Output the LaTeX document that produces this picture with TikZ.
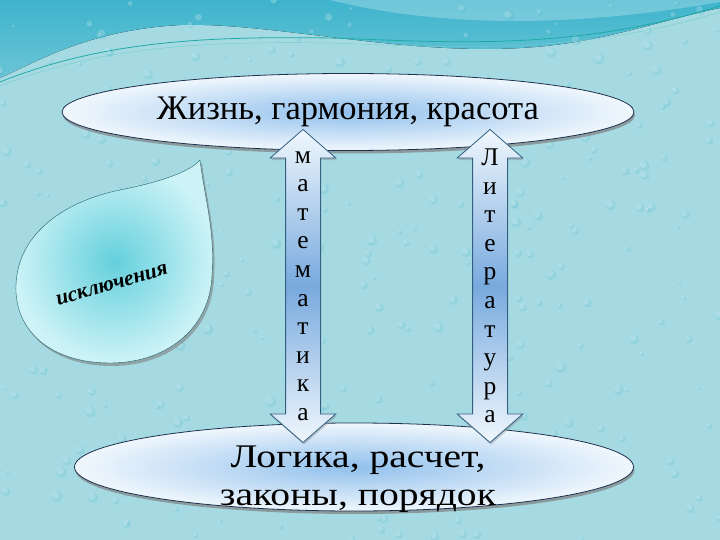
\documentclass[tikz,border=0pt]{standalone}
\usepackage{fontspec}
\setmainfont{Liberation Serif}
\newfontfamily\wideserif[FakeStretch=1.2]{Liberation Serif}
\usetikzlibrary{shapes.geometric,shapes.arrows,shadows,positioning}
\definecolor{sea}{RGB}{165,218,227}
\definecolor{seadark}{RGB}{62,180,204}
\definecolor{ovalmid}{RGB}{145,192,236}
\definecolor{ovaledge}{RGB}{240,247,253}
\definecolor{ovalline}{RGB}{30,50,80}
\definecolor{arrowline}{RGB}{50,95,130}
\definecolor{arrowmid}{RGB}{120,170,222}
\definecolor{dropmid}{RGB}{100,208,220}
\definecolor{dropedge}{RGB}{205,243,247}
\definecolor{dropline}{RGB}{30,100,105}
\definecolor{wave}{RGB}{30,170,165}
\tikzset{oval/.style={ellipse,draw=ovalline,thick,inner sep=0pt,inner color=ovalmid,outer color=ovaledge,
            drop shadow={shadow xshift=1pt,shadow yshift=-3pt,opacity=.7},font=\fontsize{34.5}{35}\selectfont,align=center},
         oval text/.style={align=center,inner sep=0pt,font=\wideserif\fontsize{33}{38}\selectfont},
         twoway/.style={double arrow,draw=arrowline,thick,rotate=90,minimum height=313pt,
            inner xsep=0pt,inner ysep=17pt,double arrow head extend=15.5pt,double arrow tip angle=98,
            top color=ovaledge,bottom color=ovaledge,middle color=arrowmid,
            drop shadow={shadow xshift=1pt,shadow yshift=-2pt,opacity=.4}},
         letters/.style={align=center,inner sep=0pt,font=\fontsize{25.5}{28.6}\selectfont},
         drop label/.style={font=\fontsize{21.5}{24}\selectfont\bfseries\itshape,rotate=16,inner sep=0pt},
}
\begin{document}
\begin{tikzpicture}[x=1pt,y=-1pt]
\useasboundingbox (0,0) rectangle (720,540);
% background
\fill[sea] (0,0) rectangle (720,540);
\fill[top color=seadark,bottom color=seadark!55!sea] (0,0) -- (0,78)
    .. controls (40,60) and (90,30) .. (180,25) .. controls (270,22) and (400,55) .. (520,48)
    .. controls (600,44) and (660,20) .. (720,8) -- (720,0) -- cycle;
\fill[white,opacity=.25] (330,0) .. controls (430,25) and (560,30) .. (720,2) -- (720,0) -- cycle;
\pgfmathsetseed{7}
\foreach \i in {1,...,320}{
    \pgfmathsetmacro\dx{720*rnd}
    \pgfmathsetmacro\dy{540*rnd}
    \pgfmathsetmacro\dr{1.5+4*rnd}
    \fill[seadark,opacity=.18] (\dx+0.8,\dy+0.8) circle[radius=\dr];
    \fill[white,opacity=.22] (\dx-0.5,\dy-0.5) circle[radius=0.7*\dr];
}
\draw[wave,thick] (0,82) .. controls (100,42) and (200,36) .. (330,38) .. controls (450,42) and (570,52) .. (720,6);
\draw[wave!60!white] (0,86) .. controls (100,47) and (200,41) .. (330,43) .. controls (450,47) and (575,56) .. (720,12);

% ovals
\node[oval,minimum width=572pt,minimum height=77pt] (life) at (348,112) {Жизнь, гармония, красота};
\node[oval,minimum width=559pt,minimum height=88pt] (logic) at (354,467) {};
\node[oval text,yshift=-12pt,xshift=4pt] (logicText) at (logic.center) {Логика, расчет,\\законы, порядок};

% arrows
\node[twoway] (mathArrow) at (303,286) {};
\node[twoway] (litArrow) at (490,286) {};
\node[letters] (mathText) at (mathArrow.center) {м\\а\\т\\е\\м\\а\\т\\и\\к\\а};
\node[letters] (litText) at (litArrow.center) {Л\\и\\т\\е\\р\\а\\т\\у\\р\\а};

% drop
\path[draw=dropline,inner color=dropmid,outer color=dropedge,drop shadow={shadow xshift=2pt,shadow yshift=-3pt,opacity=.6}]
    (200,160) .. controls (205,200) and (215,230) .. (212,275) .. controls (210,330) and (165,363) .. (110,363)
    .. controls (50,363) and (14,330) .. (16,285) .. controls (18,230) and (70,200) .. (120,190)
    .. controls (160,182) and (190,172) .. (200,160) -- cycle;
\node[drop label] (except) at (112,285) {исключения};
\end{tikzpicture}
\end{document}
